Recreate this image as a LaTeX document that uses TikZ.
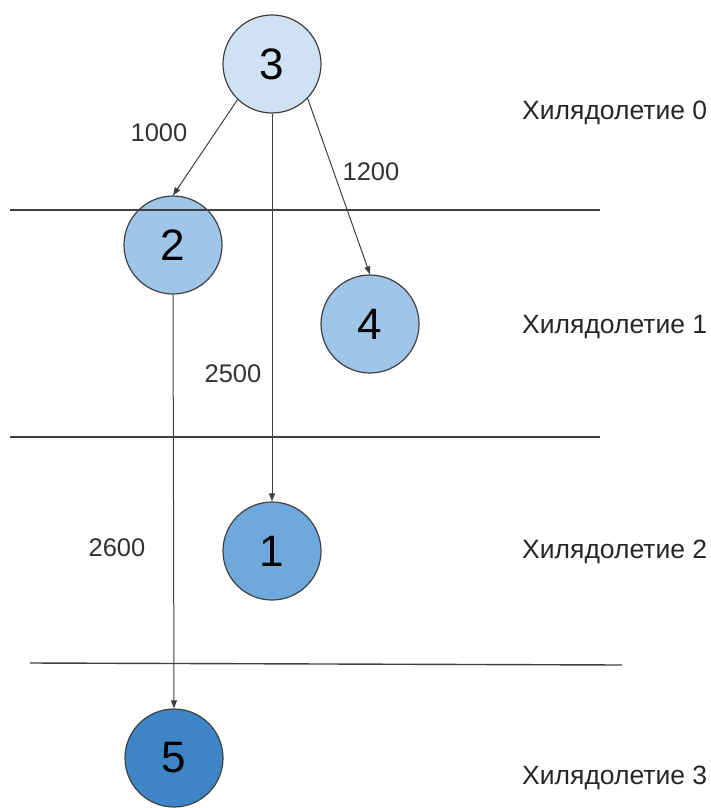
\documentclass[tikz,border=0pt]{standalone}
\usepackage{fontspec}
\setmainfont{Liberation Sans}
\usetikzlibrary{arrows.meta}
\definecolor{lb3}{HTML}{CFE2F3}
\definecolor{lb2}{HTML}{9FC5E8}
\definecolor{lb1}{HTML}{6FA8DC}
\definecolor{db1}{HTML}{3D85C6}
\definecolor{edge}{HTML}{404040}
\tikzset{
  vertex/.style={circle, draw=edge, line width=1.2pt, minimum size=98pt, inner sep=0pt, font=\fontsize{44}{44}\selectfont},
  conn/.style={draw=edge, line width=1pt, -{Triangle[length=8pt,width=6pt]}},
  sep/.style={draw=edge, line width=1.4pt},
  wlabel/.style={font=\fontsize{25.5}{27}\selectfont, text=black!80, inner sep=0pt},
  era/.style={font=\fontsize{26.5}{28}\selectfont, text=black!85, anchor=west, inner sep=0pt}
}
\begin{document}
\begin{tikzpicture}[x=1pt,y=-1pt]
\useasboundingbox (0,0) rectangle (710,808);
\node[vertex, fill=lb3] (n3) at (272,64) {3};
\node[vertex, fill=lb2] (n2) at (173,245) {2};
\node[vertex, fill=lb2] (n4) at (370,324) {4};
\node[vertex, fill=lb1] (n1) at (272,551) {1};
\node[vertex, fill=db1] (n5) at (174,758) {5};

\coordinate (l1a) at (10,210); \coordinate (l1b) at (600,210);
\coordinate (l2a) at (10,437); \coordinate (l2b) at (600,437);
\coordinate (l3a) at (30,663); \coordinate (l3b) at (622,665);
\draw[sep] (l1a) -- (l1b);
\draw[sep] (l2a) -- (l2b);
\draw[sep] (l3a) -- (l3b);

\draw[conn] (n3.-134) -- (n2.north);
\draw[conn] (n3.south) -- (n1.north);
\draw[conn] (n3.-44) -- (n4.north);
\draw[conn] (n2.south) -- (n5.north);

\node[wlabel] (w1) at (159,133) {1000};
\node[wlabel] (w2) at (371,172) {1200};
\node[wlabel] (w3) at (233,374) {2500};
\node[wlabel] (w4) at (117,548) {2600};

\node[era] (e0) at (522,113) {Хилядолетие 0};
\node[era] (e1) at (522,327) {Хилядолетие 1};
\node[era] (e2) at (522,552) {Хилядолетие 2};
\node[era] (e3) at (522,778) {Хилядолетие 3};
\end{tikzpicture}
\end{document}
